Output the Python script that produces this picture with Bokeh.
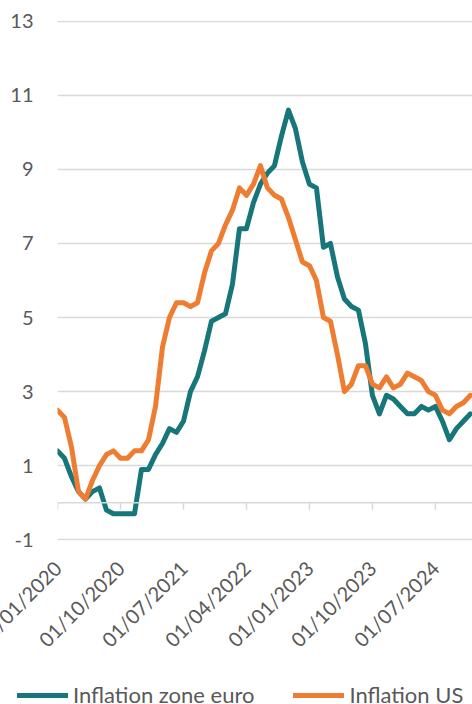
import math
from bokeh.plotting import figure
from bokeh.layouts import column
from bokeh.models import (Range1d, LinearAxis, FixedTicker, Legend, LegendItem,
                          ColumnDataSource, Span)
from bokeh.embed import file_html
from bokeh.resources import INLINE

# ---- data (monthly, Jan 2020 .. Dec 2024) ----
euro = [1.4, 1.2, 0.7, 0.3, 0.1, 0.3, 0.4, -0.2, -0.3, -0.3, -0.3, -0.3,
        0.9, 0.9, 1.3, 1.6, 2.0, 1.9, 2.2, 3.0, 3.4, 4.1, 4.9, 5.0,
        5.1, 5.9, 7.4, 7.4, 8.1, 8.6, 8.9, 9.1, 9.9, 10.6, 10.1, 9.2,
        8.6, 8.5, 6.9, 7.0, 6.1, 5.5, 5.3, 5.2, 4.3, 2.9, 2.4, 2.9,
        2.8, 2.6, 2.4, 2.4, 2.6, 2.5, 2.6, 2.2, 1.7, 2.0, 2.2, 2.4]
us = [2.5, 2.3, 1.5, 0.3, 0.1, 0.6, 1.0, 1.3, 1.4, 1.2, 1.2, 1.4,
      1.4, 1.7, 2.6, 4.2, 5.0, 5.4, 5.4, 5.3, 5.4, 6.2, 6.8, 7.0,
      7.5, 7.9, 8.5, 8.3, 8.6, 9.1, 8.5, 8.3, 8.2, 7.7, 7.1, 6.5,
      6.4, 6.0, 5.0, 4.9, 4.0, 3.0, 3.2, 3.7, 3.7, 3.2, 3.1, 3.4,
      3.1, 3.2, 3.5, 3.4, 3.3, 3.0, 2.9, 2.5, 2.4, 2.6, 2.7, 2.9]
months = list(range(len(euro)))
tick_months = [0, 9, 18, 27, 36, 45, 54]
tick_labels = ["01/01/2020", "01/10/2020", "01/07/2021", "01/04/2022",
               "01/01/2023", "01/10/2023", "01/07/2024"]
y_ticks = [-1, 1, 3, 5, 7, 9, 11, 13]
y_tick_labels = ["-1", "1", "3", "5", "7", "9", "11", "13"]
series_names = ["Inflation zone euro", "Inflation US"]

TEAL = "#17767A"
ORANGE = "#EE7D31"
GREY_TXT = "#595959"
GRID = "#D9D9D9"
FONT = "Lato"
FS = "20px"
SHIFT = 30  # canvas starts left of the window so the first date is cut like the original

src = ColumnDataSource(dict(m=months, euro=euro, us=us))
tsrc = ColumnDataSource(dict(m=tick_months, y0=[0] * len(tick_months),
                             y1=[-0.19] * len(tick_months)))

P_H = 682
p = figure(width=472 + SHIFT, height=P_H, output_backend="svg",
           toolbar_location=None,
           x_range=Range1d(0, 59.3), y_range=Range1d(-1.02, 13.02),
           x_axis_location=None, y_axis_location="left",
           min_border_left=57 + SHIFT, min_border_right=0, min_border_top=20,
           min_border_bottom=P_H - 540)
p.outline_line_color = None
p.xgrid.visible = False
p.ygrid.ticker = FixedTicker(ticks=y_ticks)
p.ygrid.grid_line_color = GRID
p.ygrid.grid_line_width = 1.3

ya = p.yaxis[0]
ya.ticker = FixedTicker(ticks=y_ticks)
ya.major_label_overrides = {t: s for t, s in zip(y_ticks, y_tick_labels)}
ya.axis_line_color = None
ya.major_tick_line_color = None
ya.minor_tick_line_color = None
ya.major_tick_out = 0
ya.major_tick_in = 0
ya.major_label_standoff = 24
ya.major_label_text_font = FONT
ya.major_label_text_font_size = FS
ya.major_label_text_color = GREY_TXT

# horizontal axis line at y = 0 with outward ticks
p.add_layout(Span(location=0, dimension="width", line_color=GRID,
                  line_width=1.5))
p.segment("m", "y0", "m", "y1", source=tsrc, line_color=GRID, line_width=1.5)

# date labels at the bottom
axl = LinearAxis(ticker=FixedTicker(ticks=tick_months))
axl.major_label_overrides = {m: s for m, s in zip(tick_months, tick_labels)}
axl.axis_line_color = None
axl.major_tick_line_color = None
axl.minor_tick_line_color = None
axl.major_tick_out = 0
axl.major_tick_in = 0
axl.major_label_standoff = 24
axl.major_label_orientation = math.pi / 4
axl.major_label_text_font = FONT
axl.major_label_text_font_size = FS
axl.major_label_text_color = GREY_TXT
p.add_layout(axl, "below")

p.line("m", "euro", source=src, line_color=TEAL, line_width=5,
       line_join="round", line_cap="round")
p.line("m", "us", source=src, line_color=ORANGE, line_width=5,
       line_join="round", line_cap="round")

# legend strip (same series, view window kept off the data)
L_H = 704 - P_H
lp = figure(width=472 + SHIFT, height=L_H, output_backend="svg",
            toolbar_location=None, x_range=Range1d(-2, -1),
            y_range=Range1d(0, 1),
            x_axis_location=None, y_axis_location=None,
            min_border_left=0, min_border_right=0, min_border_top=0,
            min_border_bottom=0)
lp.frame_align = False
lp.outline_line_color = None
lp.grid.visible = False
l1 = lp.line("m", "euro", source=src, line_color=TEAL, line_width=5,
             line_cap="round")
l2 = lp.line("m", "us", source=src, line_color=ORANGE, line_width=5,
             line_cap="round")
leg = Legend(items=[LegendItem(label=series_names[0], renderers=[l1]),
                    LegendItem(label=series_names[1], renderers=[l2])],
             orientation="horizontal", location=(17 + SHIFT, -4),
             glyph_width=51, glyph_height=20, label_standoff=5, spacing=39,
             padding=0, margin=0, border_line_color=None,
             background_fill_alpha=0,
             label_text_font=FONT, label_text_font_size="22px",
             label_text_color=GREY_TXT)
lp.add_layout(leg, "center")

layout = column(p, lp, spacing=0)
layout.styles = {"margin-left": "-%dpx" % SHIFT}

open("out.html", "w").write(file_html(layout, INLINE))
